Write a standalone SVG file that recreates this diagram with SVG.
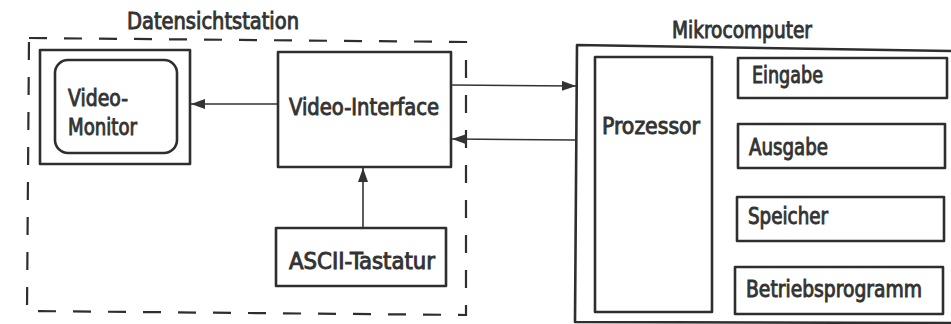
<svg xmlns="http://www.w3.org/2000/svg" width="951" height="324" viewBox="0 0 951 324">
<style>
.bx{fill:none;stroke:#2e2e2e;stroke-width:2.6;stroke-linejoin:round}
.ln{fill:none;stroke:#333;stroke-width:1.6}
.ds{fill:none;stroke:#2e2e2e;stroke-width:2.2;stroke-dasharray:18 17}
.t{font-family:"DejaVu Sans Condensed","DejaVu Sans","Liberation Sans",sans-serif;font-weight:normal;font-size:23px;fill:#333;stroke:#333;stroke-width:0.9}
</style>
<defs>
<marker id="ah" viewBox="0 0 14 10" refX="14" refY="5" markerWidth="14" markerHeight="10" markerUnits="userSpaceOnUse" orient="auto">
<path d="M0,0 L14,5 L0,10 Z" fill="#333"/>
</marker>
</defs>
<rect width="951" height="324" fill="#fff"/>
<g id="datensichtstation">
<path class="ds" d="M29,38 L466,42 L466,315 L27,311 Z"/>
<text class="t" x="127" y="29" textLength="172" lengthAdjust="spacingAndGlyphs">Datensichtstation</text>
</g>
<g id="video-monitor">
<rect class="bx" x="40" y="50" width="150" height="114"/>
<rect class="bx" x="55" y="60" width="122" height="93" rx="13"/>
<text class="t" x="68" y="106" textLength="60" lengthAdjust="spacingAndGlyphs">Video-</text>
<text class="t" x="68" y="135" textLength="69" lengthAdjust="spacingAndGlyphs">Monitor</text>
</g>
<g id="video-interface">
<rect class="bx" x="278" y="52" width="173" height="115"/>
<text class="t" x="289" y="115" textLength="150" lengthAdjust="spacingAndGlyphs">Video-Interface</text>
</g>
<g id="ascii-tastatur">
<rect class="bx" x="276" y="228" width="170" height="58"/>
<text class="t" x="289" y="269" textLength="146" lengthAdjust="spacingAndGlyphs">ASCII-Tastatur</text>
</g>
<g id="mikrocomputer">
<path class="bx" d="M951,51 L577,45 L575,322 L951,323"/>
<text class="t" x="672" y="38" textLength="140" lengthAdjust="spacingAndGlyphs">Mikrocomputer</text>
</g>
<g id="prozessor">
<rect class="bx" x="595" y="57" width="117" height="255"/>
<text class="t" x="602" y="134" textLength="98" lengthAdjust="spacingAndGlyphs">Prozessor</text>
</g>
<g id="eingabe">
<rect class="bx" x="738" y="58" width="209" height="40"/>
<text class="t" x="752" y="83" textLength="71" lengthAdjust="spacingAndGlyphs">Eingabe</text>
</g>
<g id="ausgabe">
<rect class="bx" x="738" y="124" width="207" height="44"/>
<text class="t" x="749" y="155" textLength="79" lengthAdjust="spacingAndGlyphs">Ausgabe</text>
</g>
<g id="speicher">
<rect class="bx" x="737" y="197" width="207" height="44"/>
<text class="t" x="748" y="224" textLength="80" lengthAdjust="spacingAndGlyphs">Speicher</text>
</g>
<g id="betriebsprogramm">
<rect class="bx" x="735" y="267" width="208" height="47"/>
<text class="t" x="746" y="297" textLength="176" lengthAdjust="spacingAndGlyphs">Betriebsprogramm</text>
</g>
<g id="connectors">
<line class="ln" x1="278" y1="104" x2="191" y2="104" marker-end="url(#ah)"/>
<line class="ln" x1="363" y1="228" x2="363" y2="168" marker-end="url(#ah)"/>
<line class="ln" x1="451" y1="85" x2="576" y2="86" marker-end="url(#ah)"/>
<line class="ln" x1="576" y1="140" x2="452" y2="139" marker-end="url(#ah)"/>
</g>
</svg>
